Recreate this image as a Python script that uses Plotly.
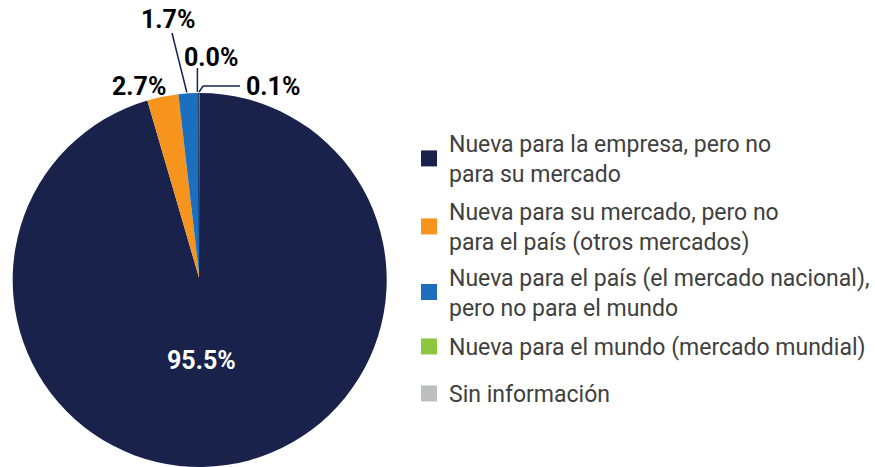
import math
import plotly.graph_objects as go

categories = [
    "Nueva para la empresa, pero no<br>para su mercado",
    "Nueva para su mercado, pero no<br>para el país (otros mercados)",
    "Nueva para el país (el mercado nacional),<br>pero no para el mundo",
    "Nueva para el mundo (mercado mundial)",
    "Sin información",
]
values = [95.5, 2.7, 1.7, 0.02, 0.1]
colors = ["#18224B", "#F7941D", "#1C6FBE", "#8DC63F", "#BCBEC0"]

W, H = 875, 467
CX, CY, R = 199.7, 280, 187


def px2paper(x, y):
    return x / W, 1 - y / H


fig = go.Figure()
fig.add_trace(
    go.Pie(
        labels=categories,
        values=values,
        sort=False,
        direction="clockwise",
        rotation=0,
        marker=dict(colors=colors,
                    line=dict(color=["#18224B"] * 5, width=[0, 0, 0, 0.6, 0.6])),
        textinfo="none",
        domain=dict(x=[(CX - R) / W, (CX + R) / W], y=[0, 2 * R / H]),
        hoverinfo="label+percent",
        showlegend=False,
    )
)

# legend entries (one legend per entry for exact vertical placement)
legend_tops = [122, 190, 255.5, 325, 372]
legend_layout = {}
for i, (cat, col) in enumerate(zip(categories, colors)):
    name = "legend" if i == 0 else f"legend{i + 1}"
    fig.add_trace(
        go.Scatter(
            x=[None], y=[None], mode="markers", name=cat,
            marker=dict(symbol="square", size=16, color=col),
            legend=name, showlegend=True, hoverinfo="skip",
        )
    )
    legend_layout[name] = dict(
        x=409 / W, xanchor="left",
        y=1 - legend_tops[i] / H, yanchor="top",
        font=dict(family="Roboto", size=23, color="#404040"),
        bgcolor="rgba(0,0,0,0)",
    )

# rim points for slice mid angles (clockwise from top)
total = sum(values)
cum = 0
rim = []
for v in values:
    mid = (cum + v / 2) / total * 2 * math.pi
    rim.append((CX + R * math.sin(mid), CY - R * math.cos(mid)))
    cum += v

annotations = []
# big slice label (inside)
bx, by = px2paper(CX + 2, CY + 80)
annotations.append(dict(
    x=bx, y=by, xref="paper", yref="paper", text=f"{values[0]:.1f}%",
    showarrow=False, xanchor="center", yanchor="middle",
    font=dict(family="Roboto", size=25, color="white", weight="bold"),
))
# outside labels for small slices
label_pos = {1: (138.5, 86), 2: (168, 19.5), 3: (211, 57), 4: (272.5, 86)}
for i, (x, y) in label_pos.items():
    ax, ay = px2paper(x, y)
    annotations.append(dict(
        x=ax, y=ay, xref="paper", yref="paper",
        text=f"{values[i]:.1f}%", showarrow=False,
        font=dict(family="Roboto", size=25, color="#000000", weight="bold"),
        xanchor="center", yanchor="middle",
    ))

line_style = dict(color="#18224B", width=1.5)
shapes = []


def seg(p, q):
    a = px2paper(*p)
    b = px2paper(*q)
    shapes.append(dict(type="line", xref="paper", yref="paper",
                       x0=a[0], y0=a[1], x1=b[0], y1=b[1], line=line_style))


# 1.7% leader
seg((172, 33), (rim[2][0] - 1.5, rim[2][1] - 1))
# 0.0% leader
seg((rim[3][0] - 1, 68), (rim[3][0] - 1, rim[3][1] - 1))
# 0.1% leader (bent)
seg((240, 86), (203, 86))
seg((203, 86), (rim[4][0], rim[4][1] - 1))

fig.update_layout(
    width=W, height=H,
    margin=dict(l=0, r=0, t=0, b=0),
    paper_bgcolor="white",
    plot_bgcolor="white",
    xaxis=dict(visible=False),
    yaxis=dict(visible=False),
    annotations=annotations,
    shapes=shapes,
    **legend_layout,
)

fig.write_html("out.html", config={"displayModeBar": False},
               post_script="document.body.style.margin='0';")
